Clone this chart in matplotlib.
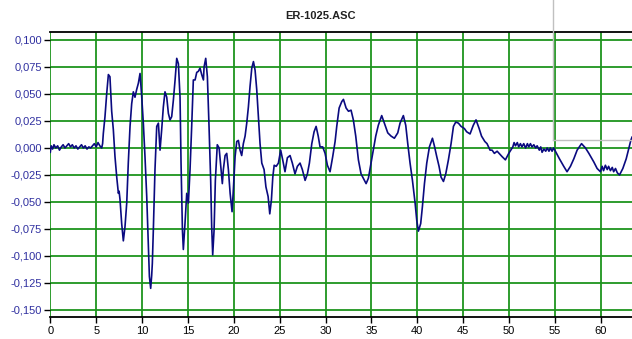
import matplotlib
matplotlib.use("Agg")
import matplotlib.pyplot as plt
from matplotlib.lines import Line2D

title = "ER-1025.ASC"

time_s = [0.0, 0.1, 0.25, 0.4, 0.6, 0.8, 1.0, 1.2, 1.4, 1.6, 1.8, 2.0, 2.2, 2.4, 2.6,
          2.8, 3.0, 3.2, 3.4, 3.6, 3.8, 4.0, 4.2, 4.4, 4.6, 4.8, 5.0, 5.2, 5.4, 5.6,
          5.7, 5.78, 5.96, 6.15, 6.33, 6.5, 6.69, 6.87, 7.05, 7.24, 7.42, 7.5, 7.6, 7.78,
          7.96, 8.14, 8.33, 8.5, 8.69, 8.87, 9.05, 9.23, 9.41, 9.6, 9.78, 9.96, 10.14,
          10.32, 10.51, 10.69, 10.8, 10.94, 11.05, 11.12, 11.23, 11.41, 11.6, 11.78,
          11.96, 12.14, 12.32, 12.5, 12.69, 12.87, 13.05, 13.23, 13.41, 13.6, 13.78,
          13.96, 14.14, 14.25, 14.4, 14.5, 14.68, 14.87, 15.05, 15.23, 15.41, 15.59,
          15.78, 15.96, 16.14, 16.32, 16.5, 16.69, 16.76, 16.94, 17.12, 17.3, 17.48,
          17.59, 17.7, 17.85, 17.99, 18.2, 18.4, 18.58, 18.75, 18.86, 19.05, 19.23,
          19.41, 19.6, 19.81, 19.95, 20.14, 20.32, 20.5, 20.68, 20.86, 21.04, 21.23,
          21.41, 21.59, 21.77, 21.96, 22.14, 22.32, 22.5, 22.68, 22.86, 23.05, 23.3,
          23.5, 23.74, 23.92, 24.1, 24.25, 24.4, 24.62, 24.86, 25.11, 25.33, 25.58,
          25.84, 26.13, 26.38, 26.67, 26.93, 27.22, 27.47, 27.77, 28.02, 28.24, 28.5,
          28.75, 28.97, 29.2, 29.4, 29.69, 29.95, 30.2, 30.49, 30.78, 31.04, 31.22,
          31.48, 31.77, 31.95, 32.24, 32.5, 32.78, 33.03, 33.29, 33.58, 33.87, 34.24,
          34.42, 34.67, 34.96, 35.21, 35.47, 35.75, 36.12, 36.41, 36.78, 37.14, 37.5,
          37.87, 38.12, 38.48, 38.74, 38.96, 39.21, 39.47, 39.76, 39.94, 40.12, 40.37,
          40.56, 40.78, 41.03, 41.32, 41.65, 41.86, 42.12, 42.37, 42.59, 42.85, 43.1,
          43.39, 43.68, 43.94, 44.19, 44.48, 44.77, 45.13, 45.38, 45.75, 46.1, 46.4,
          46.74, 47.0, 47.36, 47.6, 47.93, 48.15, 48.4, 48.7, 49.24, 49.6, 49.97,
          50.41, 50.55, 50.7, 50.9, 51.05, 51.24, 51.4, 51.6, 51.8, 52.0, 52.15,
          52.33, 52.5, 52.7, 52.9, 53.06, 53.3, 53.45, 53.6, 53.8, 54.0, 54.15,
          54.35, 54.5, 54.69, 54.85, 55.05, 55.49,
          55.96, 56.32, 56.69, 57.06, 57.42, 57.9, 58.33, 58.7, 59.24, 59.6, 59.96,
          60.15, 60.3, 60.5, 60.7, 60.85, 61.05, 61.25, 61.4, 61.6, 61.8, 62.04,
          62.4, 62.77, 63.0, 63.27, 63.4]

signal = [-0.004, 0.002, -0.001, 0.003, 0.000, 0.002, -0.002, 0.001, 0.003, 0.000,
          0.002, 0.004, 0.001, 0.003, 0.000, 0.002, -0.001, 0.001, 0.003, 0.000,
          0.002, -0.001, 0.001, 0.000, 0.002, 0.004, 0.001, 0.005, 0.002, 0.000,
          0.004, 0.0136, 0.029, 0.0506, 0.068, 0.066, 0.034, 0.017, -0.008, -0.027,
          -0.042, -0.040, -0.048, -0.070, -0.086, -0.073, -0.051, -0.014, 0.020,
          0.041, 0.052, 0.047, 0.054, 0.060, 0.069, 0.048, 0.023, -0.008, -0.045,
          -0.091, -0.119, -0.130, -0.118, -0.107, -0.076, -0.020, 0.020, 0.023,
          -0.002, 0.017, 0.038, 0.052, 0.047, 0.032, 0.026, 0.029, 0.044, 0.063,
          0.083, 0.078, 0.047, -0.014, -0.076, -0.094, -0.070, -0.042, -0.051,
          -0.020, 0.020, 0.063, 0.063, 0.070, 0.071, 0.074, 0.068, 0.063, 0.075,
          0.083, 0.066, 0.020, -0.030, -0.073, -0.099, -0.076, -0.030, 0.003,
          0.000, -0.017, -0.033, -0.020, -0.007, -0.005, -0.020, -0.042, -0.059,
          -0.039, -0.008, 0.006, 0.007, -0.002, -0.007, 0.004, 0.011, 0.023, 0.038,
          0.057, 0.074, 0.080, 0.072, 0.054, 0.029, 0.004, -0.014, -0.020, -0.036,
          -0.045, -0.061, -0.048, -0.027, -0.016, -0.017, -0.014, -0.002, -0.011,
          -0.022, -0.009, -0.007, -0.014, -0.024, -0.017, -0.014, -0.020, -0.030,
          -0.024, -0.014, 0.004, 0.015, 0.020, 0.011, 0.001, 0.001, -0.005, -0.016,
          -0.022, -0.008, 0.006, 0.020, 0.037, 0.043, 0.045, 0.037, 0.034, 0.035,
          0.026, 0.011, -0.011, -0.024, -0.030, -0.033, -0.028, -0.014, -0.002,
          0.011, 0.021, 0.030, 0.023, 0.014, 0.011, 0.009, 0.014, 0.023, 0.030,
          0.021, 0.004, -0.014, -0.030, -0.051, -0.067, -0.077, -0.070, -0.054,
          -0.033, -0.014, 0.001, 0.009, 0.002, -0.008, -0.017, -0.027, -0.031,
          -0.024, -0.011, 0.004, 0.020, 0.024, 0.023, 0.020, 0.018, 0.015, 0.013,
          0.021, 0.026, 0.018, 0.011, 0.006, 0.004, -0.002, -0.002, -0.005, -0.003,
          -0.008, -0.011, -0.005,
          0.001, 0.005, 0.002, 0.005, 0.001, 0.004, 0.001, 0.004, 0.000, 0.004, 0.001,
          0.004, 0.001, 0.003, 0.000, 0.002, -0.002, 0.001, -0.004, -0.001, -0.003, 0.000,
          -0.003, 0.000, -0.003, 0.000, -0.003, -0.010,
          -0.017, -0.022, -0.017, -0.010, -0.002, 0.004, 0.000, -0.005, -0.013, -0.019,
          -0.022, -0.017, -0.021, -0.016, -0.020, -0.017, -0.021, -0.018, -0.022, -0.019,
          -0.023, -0.025,
          -0.019, -0.010, -0.002, 0.007, 0.010]

x_ticks = [0, 5, 10, 15, 20, 25, 30, 35, 40, 45, 50, 55, 60]
y_ticks = [-0.150, -0.125, -0.100, -0.075, -0.050, -0.025, 0.000,
           0.025, 0.050, 0.075, 0.100]
y_tick_labels = ["-0,150", "-0,125", "-0,100", "-0,075", "-0,050", "-0,025",
                 "0,000", "0,025", "0,050", "0,075", "0,100"]

plt.rcParams['font.family'] = ['Liberation Sans', 'DejaVu Sans']

fig = plt.figure(figsize=(6.32, 3.39), dpi=100)
ax = fig.add_axes([50.3 / 632, 1 - 317.3 / 339, 1 - 50.3 / 632, (317.3 - 32) / 339])

ax.set_xlim(0, 63.4)
ax.set_ylim(-0.1568, 0.1074)

ax.grid(True, color='#1e941e', linewidth=1.3)
ax.set_axisbelow(True)
ax.plot(time_s, signal, color='#0a0a80', linewidth=1.2)

ax.set_xticks(x_ticks)
ax.set_xticklabels([str(t) for t in x_ticks], fontsize=8, color='black')
ax.set_yticks(y_ticks)
ax.set_yticklabels(y_tick_labels, fontsize=8, color='#3030a0')
ax.tick_params(axis='both', length=4, width=1, color='black', pad=2)

for side in ['left', 'right']:
    ax.spines[side].set_visible(False)
for side in ['top', 'bottom']:
    ax.spines[side].set_color('black')
    ax.spines[side].set_linewidth(1.3)

fig.text(320 / 632, 1 - 16 / 339, title, ha='center', va='center',
         fontsize=8, fontweight='bold', color='#222222')

# light grey overlay rectangle at upper right
x0 = 552.7 / 632
y0 = 1 - 140 / 339
fig.add_artist(Line2D([x0, x0], [1.0, y0], color='#c0c0c0', linewidth=1.0, transform=fig.transFigure))
fig.add_artist(Line2D([x0, 1.0], [y0, y0], color='#c0c0c0', linewidth=1.0, transform=fig.transFigure))

fig.savefig("out.png", dpi=100)
